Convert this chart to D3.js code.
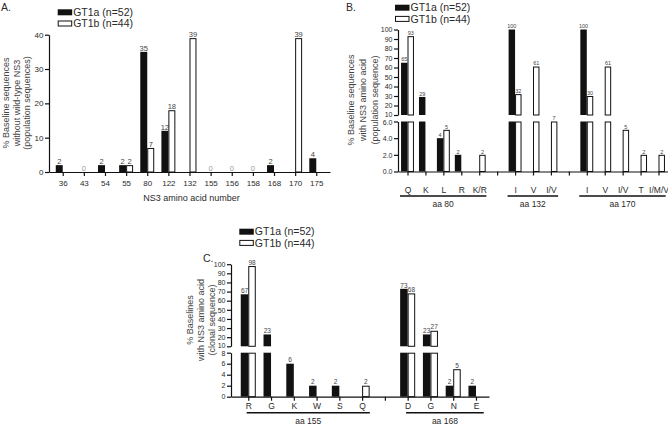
<!DOCTYPE html>
<html>
<head>
<meta charset="utf-8">
<script src="https://cdn.jsdelivr.net/npm/d3@7"></script>
<style>
  body { margin: 0; background: #fff; }
  svg { font-family: "Liberation Sans", Arial, sans-serif; }
</style>
</head>
<body>
<svg id="fig" width="668" height="428"></svg>
<script>
// ---- data ----
const seriesNames = ["GT1a (n=52)", "GT1b (n=44)"];

// A: % baseline sequences without wild-type NS3
const aPositions = ["36", "43", "54", "55", "80", "122", "132", "155", "156", "158", "168", "170", "175"];
const aGT1a = [2, 0, 2, 2, 35, 12, 0, 0, 0, 0, 2, 0, 4];
const aGT1b = [0, 0, 0, 2, 7, 18, 39, 0, 0, 0, 0, 39, 0];
const aTicks = [0, 10, 20, 30, 40];

// B: population sequence, aa 80 / 132 / 170 ("" = spacer)
const bResidues = ["Q", "K", "L", "R", "K/R", "", "I", "V", "I/V", "", "I", "V", "I/V", "T", "I/M/V"];
const bGT1a = [65, 29, 4, 2, 0, null, 100, 0, 0, null, 100, 0, 0, 0, 0];
const bGT1b = [93, 0, 5, 0, 2, null, 32, 61, 7, null, 30, 61, 5, 2, 2];
const bGroups = ["aa 80", "aa 132", "aa 170"];
const bGroupSpans = [[0, 4], [6, 8], [10, 14]];
const bTicksLow = [0, 2, 4, 6];
const bTicksHigh = [10, 20, 30, 40, 50, 60, 70, 80, 90, 100];

// C: clonal sequence, aa 155 / 168
const cResidues = ["R", "G", "K", "W", "S", "Q", "", "D", "G", "N", "E"];
const cGT1a = [67, 23, 6, 2, 2, 0, null, 73, 23, 2, 2];
const cGT1b = [98, 0, 0, 0, 0, 2, null, 68, 27, 5, 0];
const cGroups = ["aa 155", "aa 168"];
const cGroupSpans = [[0, 5], [7, 10]];
const cTicksLow = [0, 2, 4, 6, 8];
const cTicksHigh = [10, 20, 30, 40, 50, 60, 70, 80, 90, 100];

const svg = d3.select("#fig");
const ink = "#111";
const txt = "#2a2a2a";

function drawPanel(p) {
  const g = svg.append("g");
  const n = p.labels.length;
  const x = d3.scalePoint().domain(d3.range(n)).range(p.xRange).padding(p.pad).align(p.align);
  const step = x.step();
  const bw = step * p.barFrac;
  const segs = p.segments.map(s => ({ ...s, y: d3.scaleLinear().domain(s.domain).range(s.range) }));
  const yBase = segs[0].y(0);

  // bars
  [p.a, p.b].forEach((vals, k) => {
    vals.forEach((v, i) => {
      if (v == null || v <= 0) return;
      const x0 = x(i) - bw + k * bw;
      let topY = yBase;
      segs.forEach(s => {
        if (v <= s.domain[0]) return;
        const top = Math.min(v, s.domain[1]);
        const y0 = s.y(s.domain[0]), y1 = s.y(top);
        g.append("rect")
          .attr("x", x0 + (k ? 0.5 : 0))
          .attr("y", y1 + (k ? 0.5 : 0))
          .attr("width", bw - (k ? 1 : 0))
          .attr("height", Math.max(0, y0 - y1 - (k ? 0.5 : 0)))
          .attr("fill", k ? "#fff" : ink)
          .attr("stroke", k ? ink : "none")
          .attr("stroke-width", 1);
        topY = Math.min(topY, y1);
      });
      g.append("text")
        .attr("x", x0 + bw / 2)
        .attr("y", topY - 1.3)
        .attr("text-anchor", "middle")
        .attr("font-size", p.valSize)
        .attr("fill", "#444")
        .text(v);
    });
  });

  if (p.zeroLabel) {
    p.a.forEach((v, i) => {
      if (v === 0 && p.b[i] === 0) {
        g.append("text")
          .attr("x", x(i)).attr("y", yBase - 1.5)
          .attr("text-anchor", "middle")
          .attr("font-size", p.valSize)
          .attr("fill", "#999")
          .text("0");
      }
    });
  }

  // y axis segments (lower first, then upper); nudge the labels next to the break apart
  segs.forEach((s, si) => {
    const ax = g.append("g")
      .attr("transform", `translate(${p.xRange[0]},0)`)
      .call(d3.axisLeft(s.y).tickValues(s.ticks).tickSize(4).tickSizeOuter(0).tickPadding(1.5))
      .call(a => a.selectAll("text").attr("font-size", p.yTickSize).attr("fill", txt).attr("font-family", null))
      .call(a => a.selectAll("path,line").attr("stroke", ink).attr("stroke-width", 1.2));
    if (segs.length > 1) {
      const edge = si === 0 ? s.domain[1] : s.domain[0];
      ax.selectAll(".tick text")
        .filter(d => d === edge)
        .attr("y", si === 0 ? 0.8 : -0.8);
    }
  });

  // x axis
  g.append("g")
    .attr("transform", `translate(0,${yBase})`)
    .call(d3.axisBottom(x).tickSize(4).tickSizeOuter(0).tickPadding(p.xPad).tickFormat(i => p.labels[i]))
    .call(a => a.selectAll("text").attr("font-size", p.xTickSize).attr("fill", txt).attr("font-family", null))
    .call(a => a.selectAll("path,line").attr("stroke", ink).attr("stroke-width", 1.2));

  // group underlines
  if (p.groups) {
    p.groups.forEach((name, j) => {
      const [f, l] = p.spans[j];
      const x1 = x(f) - step * p.lineL, x2 = Math.min(x(l) + step * p.lineR, 667);
      g.append("line")
        .attr("x1", x1).attr("x2", x2)
        .attr("y1", p.lineY).attr("y2", p.lineY)
        .attr("stroke", ink).attr("stroke-width", 1.5);
      g.append("text")
        .attr("x", (x1 + x2) / 2).attr("y", p.lineY + 11)
        .attr("text-anchor", "middle")
        .attr("font-size", 8.5).attr("fill", txt)
        .text(name);
    });
  }

  // y title (3 lines, rotated)
  p.yTitle.forEach((t, j) => {
    g.append("text")
      .attr("transform", `translate(${p.yTitleX[j]},${p.yTitleY}) rotate(-90)`)
      .attr("text-anchor", "middle")
      .attr("dy", "0.35em")
      .attr("font-size", 9).attr("fill", "#444")
      .text(t);
  });

  // panel letter
  g.append("text").attr("x", p.letterPos[0]).attr("y", p.letterPos[1])
    .attr("font-size", 10.5).attr("fill", txt).text(p.letter);

  // legend
  seriesNames.forEach((nm, k) => {
    const ly = p.legend[1] + k * 11.2;
    g.append("rect")
      .attr("x", p.legend[0] + (k ? 0.5 : 0)).attr("y", ly + (k ? 0.5 : 0))
      .attr("width", 14.5 - (k ? 1 : 0)).attr("height", 6 - (k ? 1 : 0))
      .attr("fill", k ? "#fff" : ink).attr("stroke", k ? ink : "none");
    g.append("text")
      .attr("x", p.legend[0] + 15.5).attr("y", ly + 3).attr("dy", "0.36em")
      .attr("font-size", 10.5).attr("fill", txt).text(nm);
  });
}

// Panel A
drawPanel({
  labels: aPositions, a: aGT1a, b: aGT1b,
  xRange: [49, 330], pad: 0.65, align: 0.5, barFrac: 0.33,
  segments: [{ domain: [0, 40], range: [172, 34.7], ticks: aTicks }],
  valSize: 7.5, yTickSize: 8, xTickSize: 8, xPad: 4, zeroLabel: true,
  yTitle: ["% Baseline sequences", "without wild-type NS3", "(population sequences)"],
  yTitleX: [6, 16.5, 27], yTitleY: 103,
  letter: "A.", letterPos: [1, 11],
  legend: [57.7, 9.3]
});
svg.append("text")
  .attr("x", 191.5).attr("y", 201)
  .attr("text-anchor", "middle")
  .attr("font-size", 9).attr("fill", txt)
  .text("NS3 amino acid number");

// Panel B
drawPanel({
  labels: bResidues, a: bGT1a, b: bGT1b,
  xRange: [398, 668], pad: 0.53, align: 0.5, barFrac: 0.36,
  segments: [
    { domain: [0, 6], range: [171.5, 121.5], ticks: bTicksLow },
    { domain: [10, 100], range: [115, 29.5], ticks: bTicksHigh }
  ],
  valSize: 5.5, yTickSize: 7, xTickSize: 8.5, xPad: 11.5, zeroLabel: false,
  groups: bGroups, spans: bGroupSpans, lineY: 196, lineL: 0.42, lineR: 0.4,
  yTitle: ["% Baseline sequences", "with NS3 amino acid", "(population sequence)"],
  yTitleX: [351, 363, 374.5], yTitleY: 100,
  letter: "B.", letterPos: [346, 11],
  legend: [395, 4.7]
});

// Panel C
drawPanel({
  labels: cResidues, a: cGT1a, b: cGT1b,
  xRange: [231, 489], pad: 0.665, align: 0.57, barFrac: 0.33,
  segments: [
    { domain: [0, 8], range: [396.7, 352.7], ticks: cTicksLow },
    { domain: [10, 100], range: [346.3, 264.2], ticks: cTicksHigh }
  ],
  valSize: 6.5, yTickSize: 7, xTickSize: 8.5, xPad: 2.5, zeroLabel: false,
  groups: cGroups, spans: cGroupSpans, lineY: 412.7, lineL: 0.07, lineR: 0.34,
  yTitle: ["% Baselines", "with NS3 amino acid", "(clonal sequence)"],
  yTitleX: [189.5, 200.5, 211.5], yTitleY: 320,
  letter: "C.", letterPos: [203, 262],
  legend: [239.3, 228.7]
});
</script>
</body>
</html>
